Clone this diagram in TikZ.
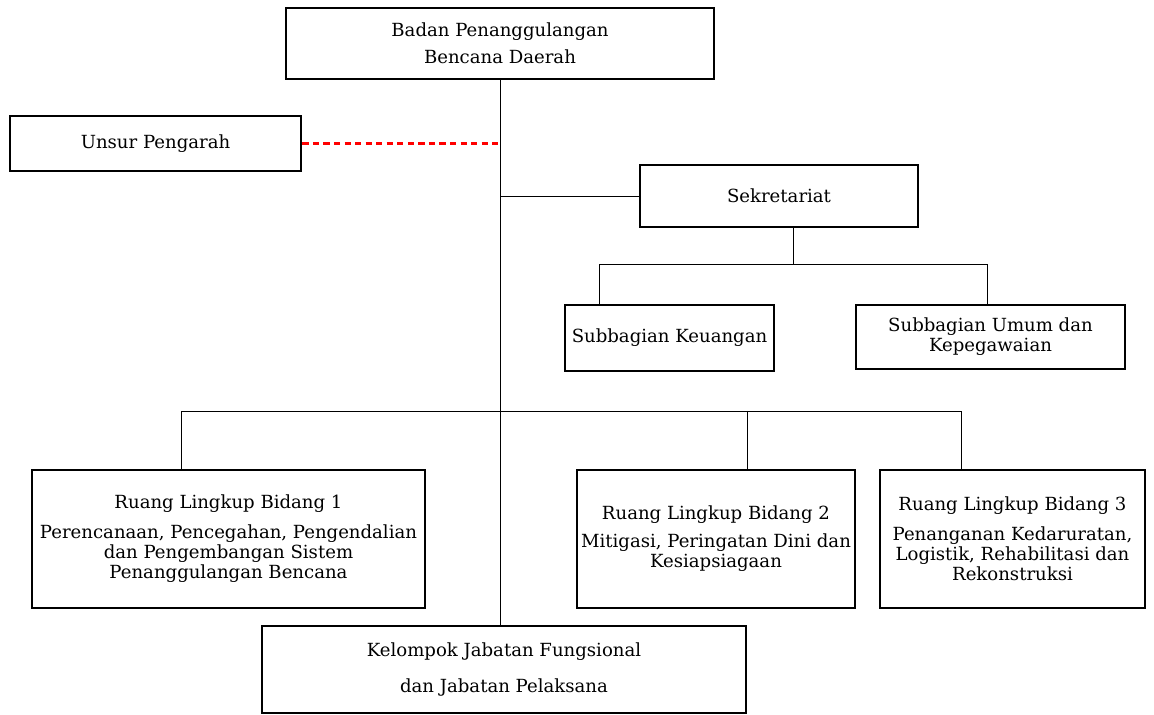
\documentclass[tikz,border=0pt]{standalone}
\usepackage{fontspec}
\setmainfont{DejaVu Serif}
\usetikzlibrary{positioning}
\usetikzlibrary{calc}

\def\u{0.02cm}
\tikzset{
  unitbox/.style 2 args={draw, line width=1.6pt, minimum width=#1*\u, minimum height=#2*\u,
    inner sep=0pt, align=center, font=\fontsize{10.3}{11.4}\selectfont},
  link/.style={line width=0.5pt},
  advise/.style={draw=red, line width=1.2pt, dash pattern=on 3.5pt off 2.5pt}
}

\begin{document}
\begin{tikzpicture}[x=0.02cm, y=-0.02cm]
 \useasboundingbox (0,0) rectangle (1154,715);

 %level 1
 \node[unitbox={428}{71}] (bpbd) at (500,43.5) {Badan Penanggulangan\\[4pt] Bencana Daerah};
 \node[unitbox={291}{55}] (pengarah) at (155.5,143.5) {Unsur Pengarah};

 %sekretariat
 \node[unitbox={278}{62}] (sekre) at (779,196) {Sekretariat};
 \node[unitbox={209}{66}] (keu) at (669.5,338) {Subbagian Keuangan};
 \node[unitbox={269}{64}] (umum) at (990.5,337) {Subbagian Umum dan\\ Kepegawaian};

 %bidang
 \node[unitbox={393}{138}] (bid1) at (228.5,539) {Ruang Lingkup Bidang 1\\[5.5pt]
   Perencanaan, Pencegahan, Pengendalian\\ dan Pengembangan Sistem\\ Penanggulangan Bencana};
 \node[unitbox={278}{138}] (bid2) at (716,539) {Ruang Lingkup Bidang 2\\[4.5pt]
   Mitigasi, Peringatan Dini dan\\ Kesiapsiagaan};
 \node[unitbox={265}{138}] (bid3) at (1012.5,539) {Ruang Lingkup Bidang 3\\[5.5pt]
   Penanganan Kedaruratan,\\ Logistik, Rehabilitasi dan\\ Rekonstruksi};

 \node[unitbox={484}{87}] (jabfung) at (504,669.5) {Kelompok Jabatan Fungsional\\[9pt] dan Jabatan Pelaksana};

 %bus points
 \coordinate (sekbus) at (793,264);
 \coordinate (keubus) at (599,264);
 \coordinate (umumbus) at (987,264);
 \coordinate (bid1bus) at (181,411);
 \coordinate (bid2bus) at (747,411);
 \coordinate (bid3bus) at (961,411);

 %connectors
 \draw[link] (bpbd.south) -- (bpbd.south |- jabfung.north);
 \draw[advise] (pengarah.east) -- (pengarah.east -| bpbd.south);
 \draw[link] (sekre.west) -- (sekre.west -| bpbd.south);
 \draw[link] (sekbus |- sekre.south) -- (sekbus);
 \draw[link] (keubus |- keu.north) -- (keubus) -- (umumbus) -- (umumbus |- umum.north);
 \draw[link] (bid1bus |- bid1.north) -- (bid1bus) -- (bid3bus) -- (bid3bus |- bid3.north);
 \draw[link] (bid2bus) -- (bid2bus |- bid2.north);

\end{tikzpicture}
\end{document}
